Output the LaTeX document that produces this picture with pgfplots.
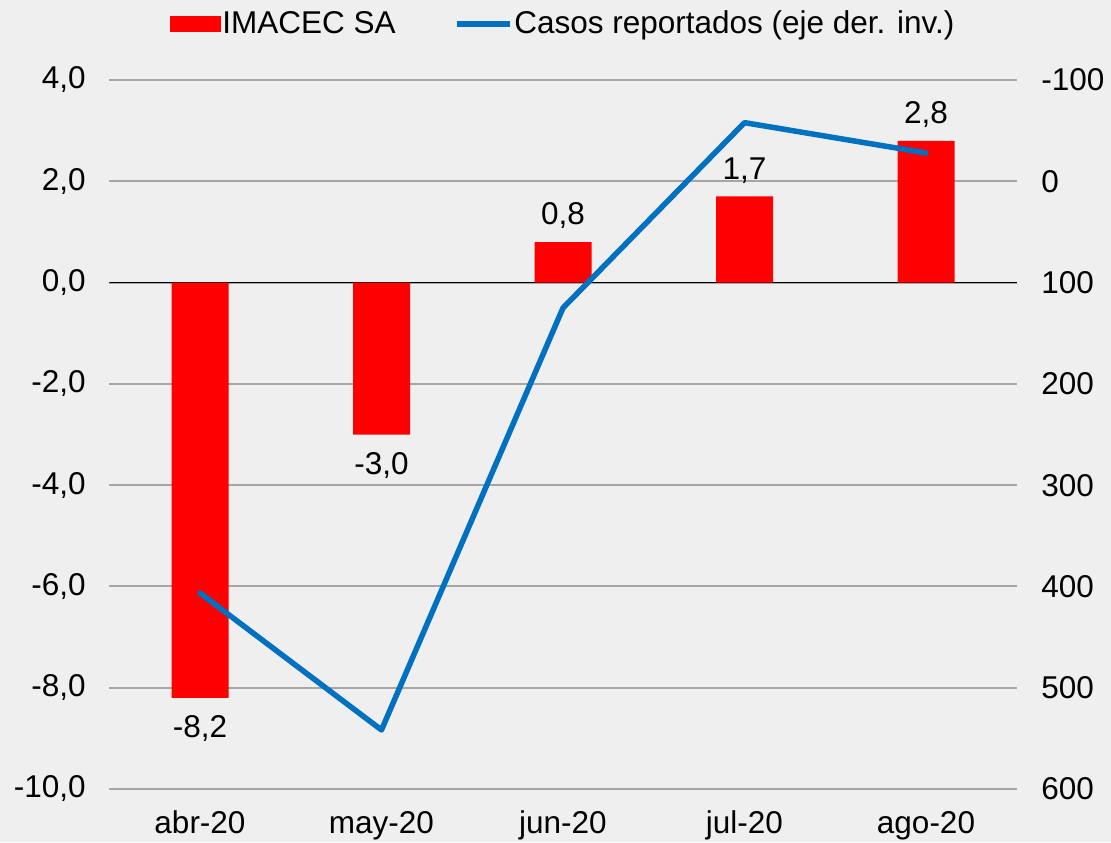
\documentclass[border=0pt]{standalone}
\usepackage{fontspec}
\setmainfont{Liberation Sans}
\usepackage{pgfplots}
\pgfplotsset{compat=1.18}
\definecolor{barred}{RGB}{255,0,0}
\definecolor{lineblue}{RGB}{0,112,192}
\definecolor{bg}{RGB}{239,239,239}
\definecolor{gridgray}{RGB}{166,166,166}
\newcommand{\chartfont}{\fontsize{15.75pt}{19pt}\selectfont}

\begin{document}
\begin{tikzpicture}[font=\chartfont]
\useasboundingbox[fill=bg] (0,0) rectangle (555.5pt,421pt);
\begin{axis}[
  at={(54.625pt,26.5pt)}, anchor=south west,
  scale only axis, width=453.75pt, height=354.5pt,
  xmin=-0.5, xmax=4.5, ymin=-10, ymax=4,
  xtick={0,1,2,3,4},
  xticklabels={abr-20,may-20,jun-20,jul-20,ago-20},
  ytick={-10,-8,-6,-4,-2,0,2,4},
  ymajorgrids, grid style={gridgray, line width=1pt},
  axis line style={draw=none}, major tick length=0pt,
  tick label style={font=\chartfont},
  xticklabel style={yshift=-7.5pt},
  yticklabel style={xshift=-8.3pt, /pgf/number format/fixed, /pgf/number format/fixed zerofill, /pgf/number format/precision=1, /pgf/number format/use comma, /pgf/number format/assume math mode=true},
]
\draw[black, line width=0.75pt] (axis cs:-0.5,0) -- (axis cs:4.5,0);
\addplot[ybar, bar width=28.5pt, fill=barred, draw=none,
  nodes near coords, nodes near coords align={vertical},
  visualization depends on={rawy \as \rawy},
  every node near coord/.append style={font=\chartfont, text=black,
    yshift={((\rawy<0)*(-8.3)+3)*1pt},
    /pgf/number format/fixed, /pgf/number format/fixed zerofill,
    /pgf/number format/precision=1, /pgf/number format/use comma,
    /pgf/number format/assume math mode=true}]
  coordinates {(0,-8.2) (1,-3.0) (2,0.8) (3,1.7) (4,2.8)};
\end{axis}
\begin{axis}[
  at={(54.625pt,26.5pt)}, anchor=south west,
  scale only axis, width=453.75pt, height=354.5pt,
  xmin=-0.5, xmax=4.5, ymin=-100, ymax=600, y dir=reverse,
  axis y line*=right, hide x axis,
  axis line style={draw=none}, major tick length=0pt,
  ytick={-100,0,100,200,300,400,500,600},
  tick label style={font=\chartfont},
  yticklabel style={xshift=8.8pt, /pgf/number format/fixed, /pgf/number format/precision=0, /pgf/number format/assume math mode=true},
  legend columns=2,
  legend style={draw=none, fill=none, at={(0.5,1)}, anchor=center, yshift=28pt,
    font=\chartfont, nodes={inner sep=1pt},
    /tikz/every even column/.append style={column sep=28pt}},
]
\addlegendimage{legend image code/.code={\fill[barred] (0pt,-3.75pt) rectangle (25pt,3.75pt);}}
\addlegendentry{IMACEC SA}
\addlegendimage{legend image code/.code={\draw[lineblue, line width=2.75pt] (0pt,0pt) -- (26.5pt,0pt);}}
\addlegendentry{Casos reportados (eje der. inv.)}
\addplot[lineblue, line width=2.75pt, line join=round, line cap=round]
  coordinates {(0,406.5) (1,541.7) (2,125) (3,-57.9) (4,-28)};
\end{axis}
\end{tikzpicture}
\end{document}
